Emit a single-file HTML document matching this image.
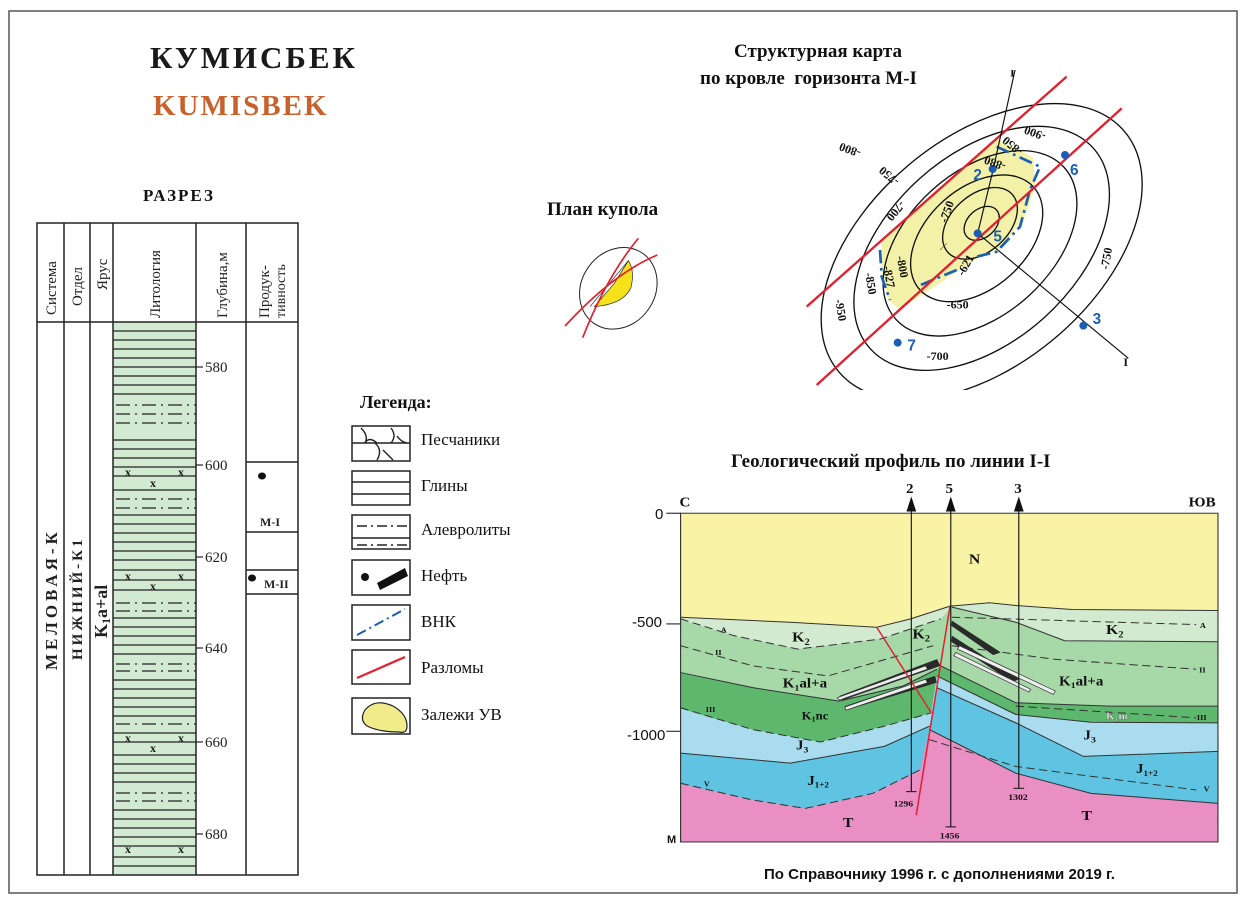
<!DOCTYPE html>
<html><head><meta charset="utf-8"><style>
body{margin:0;width:1247px;height:901px;background:#fff;position:relative;overflow:hidden;font-family:"Liberation Serif",serif;}
.t{position:absolute;white-space:nowrap;}
svg{position:absolute;}
</style></head><body>
<svg width="1247" height="901" style="left:0;top:0">
<rect x="9" y="11" width="1228" height="882" fill="none" stroke="#555" stroke-width="1.5"/>
</svg>

<div class="t" style="left:150px;top:40px;font-size:31px;font-weight:bold;letter-spacing:3px;color:#1a1a1a">КУМИСБЕК</div>
<div class="t" style="left:153px;top:90px;font-size:29px;font-weight:bold;letter-spacing:2px;color:#c8612c">KUMISBEK</div>
<div class="t" style="left:143px;top:186px;font-size:17px;font-weight:bold;letter-spacing:2px;color:#111">РАЗРЕЗ</div>

<!-- Column -->
<svg width="320" height="901" style="left:0;top:0" font-family="Liberation Serif, serif">
<rect x="113" y="322" width="83" height="553" fill="#d3ead2"/>
<g stroke="#222" stroke-width="1.2">
<line x1="113" y1="331" x2="196" y2="331"/><line x1="113" y1="340" x2="196" y2="340"/><line x1="113" y1="349" x2="196" y2="349"/><line x1="113" y1="358" x2="196" y2="358"/><line x1="113" y1="367" x2="196" y2="367"/><line x1="113" y1="376" x2="196" y2="376"/><line x1="113" y1="385" x2="196" y2="385"/><line x1="113" y1="394" x2="196" y2="394"/>
<line x1="113" y1="440" x2="196" y2="440"/><line x1="113" y1="449" x2="196" y2="449"/><line x1="113" y1="458" x2="196" y2="458"/><line x1="113" y1="467" x2="196" y2="467"/><line x1="113" y1="476" x2="196" y2="476"/><line x1="113" y1="490" x2="196" y2="490"/>
<line x1="113" y1="515" x2="196" y2="515"/><line x1="113" y1="524" x2="196" y2="524"/><line x1="113" y1="533" x2="196" y2="533"/><line x1="113" y1="542" x2="196" y2="542"/><line x1="113" y1="551" x2="196" y2="551"/><line x1="113" y1="560" x2="196" y2="560"/><line x1="113" y1="570" x2="196" y2="570"/><line x1="113" y1="580" x2="196" y2="580"/><line x1="113" y1="590" x2="196" y2="590"/>
<line x1="113" y1="618" x2="196" y2="618"/><line x1="113" y1="627" x2="196" y2="627"/><line x1="113" y1="636" x2="196" y2="636"/><line x1="113" y1="645" x2="196" y2="645"/><line x1="113" y1="654" x2="196" y2="654"/>
<line x1="113" y1="680" x2="196" y2="680"/><line x1="113" y1="689" x2="196" y2="689"/><line x1="113" y1="698" x2="196" y2="698"/><line x1="113" y1="707" x2="196" y2="707"/><line x1="113" y1="716" x2="196" y2="716"/>
<line x1="113" y1="733" x2="196" y2="733"/><line x1="113" y1="742" x2="196" y2="742"/><line x1="113" y1="755" x2="196" y2="755"/><line x1="113" y1="764" x2="196" y2="764"/><line x1="113" y1="773" x2="196" y2="773"/><line x1="113" y1="782" x2="196" y2="782"/>
<line x1="113" y1="810" x2="196" y2="810"/><line x1="113" y1="819" x2="196" y2="819"/><line x1="113" y1="828" x2="196" y2="828"/><line x1="113" y1="837" x2="196" y2="837"/><line x1="113" y1="846" x2="196" y2="846"/><line x1="113" y1="857" x2="196" y2="857"/><line x1="113" y1="866" x2="196" y2="866"/>
</g>
<g stroke="#222" stroke-width="1.2" stroke-dasharray="14,5,2,5">
<line x1="116" y1="405" x2="196" y2="405"/><line x1="116" y1="414" x2="196" y2="414"/><line x1="116" y1="423" x2="196" y2="423"/>
<line x1="116" y1="499" x2="196" y2="499"/><line x1="116" y1="508" x2="196" y2="508"/>
<line x1="116" y1="603" x2="196" y2="603"/><line x1="116" y1="611" x2="196" y2="611"/>
<line x1="116" y1="664" x2="196" y2="664"/><line x1="116" y1="671" x2="196" y2="671"/>
<line x1="116" y1="724" x2="196" y2="724"/>
<line x1="116" y1="793" x2="196" y2="793"/><line x1="116" y1="801" x2="196" y2="801"/>
</g>
<g font-size="12" font-weight="bold" fill="#222">
<text x="125" y="476">x</text><text x="150" y="487">x</text><text x="178" y="476">x</text>
<text x="125" y="580">x</text><text x="150" y="590">x</text><text x="178" y="580">x</text>
<text x="125" y="742">x</text><text x="150" y="752">x</text><text x="178" y="742">x</text>
<text x="125" y="853">x</text><text x="178" y="853">x</text>
</g>
<g stroke="#222" stroke-width="1.5" fill="none">
<rect x="37" y="223" width="261" height="652"/>
<line x1="37" y1="322" x2="298" y2="322"/>
<line x1="64" y1="223" x2="64" y2="875"/><line x1="90" y1="223" x2="90" y2="875"/><line x1="113" y1="223" x2="113" y2="875"/><line x1="196" y1="223" x2="196" y2="875"/><line x1="246" y1="223" x2="246" y2="875"/>
<line x1="246" y1="462" x2="298" y2="462"/><line x1="246" y1="532" x2="298" y2="532"/><line x1="246" y1="570" x2="298" y2="570"/><line x1="246" y1="594" x2="298" y2="594"/>
</g>
<g stroke="#222" stroke-width="1.2">
<line x1="196" y1="367" x2="203" y2="367"/><line x1="196" y1="465" x2="203" y2="465"/><line x1="196" y1="557" x2="203" y2="557"/><line x1="196" y1="648" x2="203" y2="648"/><line x1="196" y1="742" x2="203" y2="742"/><line x1="196" y1="834" x2="203" y2="834"/>
</g>
<g font-size="15" fill="#222">
<text x="205" y="372">580</text><text x="205" y="470">600</text><text x="205" y="562">620</text><text x="205" y="653">640</text><text x="205" y="747">660</text><text x="205" y="839">680</text>
</g>
<g font-size="15" fill="#222">
<text transform="translate(56,315) rotate(-90)">Система</text>
<text transform="translate(82,306) rotate(-90)">Отдел</text>
<text transform="translate(107,290) rotate(-90)">Ярус</text>
<text transform="translate(160,318) rotate(-90)">Литология</text>
<text transform="translate(227,318) rotate(-90)">Глубина,м</text>
<text transform="translate(269,318) rotate(-90)">Продук-</text>
<text transform="translate(285,318) rotate(-90)" font-size="14">тивность</text>
</g>
<g font-weight="bold" fill="#222">
<text transform="translate(57,670) rotate(-90)" font-size="17" letter-spacing="4">МЕЛОВАЯ-К</text>
<text transform="translate(82,660) rotate(-90)" font-size="15" letter-spacing="3">НИЖНИЙ-К1</text>
<text transform="translate(107,638) rotate(-90)" font-size="18">K<tspan font-size="12" dy="3">1</tspan><tspan dy="-3">a+al</tspan></text>
<text x="260" y="526" font-size="12">М-I</text>
<text x="264" y="588" font-size="12">М-II</text>
</g>
<ellipse cx="262" cy="476" rx="4" ry="3.5" fill="#111"/>
<ellipse cx="252" cy="578" rx="4" ry="3.5" fill="#111"/>
</svg>

<!-- Legend -->
<div class="t" style="left:360px;top:392px;font-size:18px;font-weight:bold;color:#111">Легенда:</div>
<svg width="130" height="360" style="left:345px;top:400px">
<g stroke="#222" stroke-width="1.5" fill="#fff">
<rect x="7" y="26" width="58" height="35"/><rect x="7" y="71" width="58" height="34"/><rect x="7" y="115" width="58" height="34"/><rect x="7" y="160" width="58" height="35"/><rect x="7" y="205" width="58" height="35"/><rect x="7" y="250" width="58" height="34"/><rect x="7" y="298" width="58" height="36"/>
</g>
<g stroke="#222" stroke-width="1.4" fill="none">
<line x1="7" y1="43" x2="65" y2="43"/>
<path d="M16 28 Q24 36 20 43 Q24 36 32 43 M46 28 Q52 36 46 43 M52 36 Q56 42 62 43 M30 43 Q38 50 32 60 M38 50 Q44 56 48 60"/>
<line x1="7" y1="82" x2="65" y2="82"/><line x1="7" y1="94" x2="65" y2="94"/>
<line x1="7" y1="138" x2="65" y2="138"/>
<line x1="12" y1="126" x2="65" y2="126" stroke-dasharray="10,4,2,4"/><line x1="12" y1="145" x2="65" y2="145" stroke-dasharray="10,4,2,4"/>
</g>
<circle cx="20" cy="177" r="4" fill="#111"/>
<polygon points="32,183 60,168 63,176 35,190" fill="#111"/>
<line x1="12" y1="235" x2="60" y2="209" stroke="#1a5fb4" stroke-width="2" stroke-dasharray="10,4,2,4"/>
<line x1="12" y1="278" x2="60" y2="257" stroke="#e02030" stroke-width="2.2"/>
<path d="M20 310 q10 -12 28 -4 q14 8 14 20 q0 8 -8 6 q-20 0 -32 -6 q-8 -6 -2 -16z" fill="#f0ec8a" stroke="#222" stroke-width="1.2"/>
</svg>
<div class="t" style="left:421px;top:430px;font-size:17px;color:#111">Песчаники</div>
<div class="t" style="left:421px;top:476px;font-size:17px;color:#111">Глины</div>
<div class="t" style="left:421px;top:520px;font-size:17px;color:#111">Алевролиты</div>
<div class="t" style="left:421px;top:566px;font-size:17px;color:#111">Нефть</div>
<div class="t" style="left:421px;top:612px;font-size:17px;color:#111">ВНК</div>
<div class="t" style="left:421px;top:658px;font-size:17px;color:#111">Разломы</div>
<div class="t" style="left:421px;top:705px;font-size:17px;color:#111">Залежи УВ</div>

<!-- Plan kupola -->
<div class="t" style="left:547px;top:199px;font-size:19px;font-weight:bold;color:#111">План купола</div>
<svg width="160" height="130" style="left:540px;top:220px" viewBox="0 90 480 390">
<ellipse cx="235" cy="295" rx="110" ry="128" transform="rotate(35 235 295)" fill="none" stroke="#222" stroke-width="3"/>
<path d="M265 212 q20 30 8 80 q-20 50 -110 58 l60 -70z" fill="#f5e21a" stroke="#222" stroke-width="2"/>
<line x1="150" y1="350" x2="265" y2="212" stroke="#222" stroke-width="2"/>
<path d="M128 443 Q200 260 295 145" stroke="#e02030" stroke-width="5" fill="none"/>
<path d="M75 408 Q220 250 352 195" stroke="#e02030" stroke-width="5" fill="none"/>
</svg>

<!-- Map title -->
<div class="t" style="left:734px;top:41px;font-size:19px;font-weight:bold;color:#111">Структурная карта</div>
<div class="t" style="left:700px;top:68px;font-size:19px;font-weight:bold;color:#111">по кровле&nbsp; горизонта М-I</div>

<svg width="360" height="320" style="left:800px;top:70px" viewBox="0 0 1080 960" font-family="Liberation Serif, serif">
<path d="M245 511 L590 206 L700 262 L705 350 L675 440 L600 535 L540 560 L300 718 L265 690 L245 600Z" fill="#f3f1a8"/>
<g fill="none" stroke="#111" stroke-width="4">
<ellipse cx="545" cy="545" rx="560" ry="340" transform="rotate(-40 545 545)"/>
<ellipse cx="545" cy="535" rx="450" ry="280" transform="rotate(-42 545 535)"/>
<ellipse cx="540" cy="520" rx="340" ry="215" transform="rotate(-42 540 520)"/>
<ellipse cx="530" cy="505" rx="230" ry="150" transform="rotate(-42 530 505)"/>
<ellipse cx="540" cy="460" rx="130" ry="85" transform="rotate(-42 540 460)"/>
<ellipse cx="545" cy="460" rx="60" ry="42" transform="rotate(-42 545 460)"/>
</g>
<path d="M590 230 L720 290 L690 360 L660 470 L590 545 L530 560 M470 600 L350 650 M240 540 L245 620 L270 690" fill="none" stroke="#1a5fb4" stroke-width="8" stroke-dasharray="40,14,8,14"/>
<line x1="20" y1="710" x2="800" y2="20" stroke="#e02030" stroke-width="7"/>
<line x1="50" y1="945" x2="965" y2="115" stroke="#e02030" stroke-width="7"/>
<polyline points="645,0 580,297 533,490 985,865" fill="none" stroke="#111" stroke-width="3.5"/>
<g fill="#1a5fb4">
<circle cx="578" cy="297" r="12"/><circle cx="533" cy="490" r="12"/><circle cx="795" cy="255" r="12"/><circle cx="850" cy="767" r="12"/><circle cx="293" cy="818" r="12"/>
</g>
<g fill="#1a5fb4" font-family="Liberation Sans, sans-serif" font-weight="bold" font-size="46">
<text x="520" y="330">2</text><text x="580" y="515">5</text><text x="810" y="315">6</text><text x="878" y="762">3</text><text x="322" y="842">7</text>
</g>
<g font-size="36" font-weight="bold" fill="#111">
<text x="630" y="20">I</text><text x="970" y="888">I</text>
<text transform="translate(185,240) rotate(200)">-800</text>
<text transform="translate(300,330) rotate(220)">-750</text>
<text transform="translate(300,390) rotate(130)">-700</text>
<text transform="translate(740,190) rotate(200)">-900</text>
<text transform="translate(670,240) rotate(220)">-850</text>
<text transform="translate(620,280) rotate(200)">-880</text>
<text transform="translate(440,460) rotate(-70)">-750</text>
<text transform="translate(290,560) rotate(80)">-800</text>
<text transform="translate(250,590) rotate(80)">-827</text>
<text transform="translate(195,610) rotate(80)">-850</text>
<text transform="translate(105,690) rotate(80)">-950</text>
<text transform="translate(490,620) rotate(-60)">-621</text>
<text x="440" y="715">-650</text>
<text x="380" y="870">-700</text>
<text transform="translate(925,600) rotate(-80)">-750</text>
</g>
<path d="M420 540 L440 520" stroke="#e02030" stroke-width="2"/>
</svg>

<!-- Profile -->
<div class="t" style="left:731px;top:451px;font-size:19px;font-weight:bold;color:#111">Геологический профиль по линии I-I</div>
<svg width="590" height="369" style="left:640px;top:478px" viewBox="0 0 1570 1100" preserveAspectRatio="none" font-family="Liberation Serif, serif">
<defs><clipPath id="bx"><rect x="108" y="105" width="1430" height="980"/></clipPath></defs>
<g clip-path="url(#bx)" stroke="none">
<rect x="108" y="105" width="1430" height="980" fill="#e98fc3"/>
<path d="M100 100 L100 910 L300 960 L440 985 L620 940 L745 870 L770 750 L1000 880 L1200 940 L1540 970 L1540 100Z" fill="#5ec4e2"/>
<path d="M100 100 L100 820 L400 850 L650 800 L770 740 L790 625 L1000 730 L1180 830 L1540 815 L1540 100Z" fill="#a9dcef"/>
<path d="M100 100 L100 685 L300 750 L480 787 L650 740 L775 700 L790 590 L1000 705 L1200 728 L1540 730 L1540 100Z" fill="#5db86e"/>
<path d="M100 100 L100 580 L300 625 L530 665 L700 620 L790 570 L800 560 L1000 670 L1250 680 L1540 680 L1540 100Z" fill="#a7d8a8"/>
<path d="M100 100 L100 420 L250 470 L420 510 L640 480 L800 420 L830 385 L1000 430 L1130 485 L1540 488 L1540 100Z" fill="#d2ebd0"/>
<path d="M100 100 L100 415 L400 430 L630 445 L720 420 L825 382 L870 378 L930 372 L1000 380 L1150 392 L1540 395 L1540 100Z" fill="#f8f3a5"/>
</g>
<g clip-path="url(#bx)" fill="none" stroke="#333" stroke-width="3">
<path d="M108 415 L400 430 L630 445 L720 420 L825 382 L870 378 L930 372 L1000 380 L1150 392 L1538 395"/>
<path d="M830 385 L1000 430 L1130 485 L1538 488"/>
<path d="M108 580 L300 625 L530 665 L700 620 L790 570"/>
<path d="M800 560 L1000 670 L1250 680 L1538 680"/>
<path d="M790 590 L1000 705 L1200 728 L1538 730"/>
<path d="M108 820 L400 850 L650 800 L770 740"/>
<path d="M790 625 L1000 730 L1180 830 L1538 815"/>
<path d="M770 750 L1000 880 L1200 940 L1538 970"/>
<g stroke-dasharray="22,12">
<path d="M108 420 L250 470 L420 510 L640 480 L800 420"/>
<path d="M830 415 L1480 437"/>
<path d="M108 500 L300 560 L500 590 L780 500"/>
<path d="M830 500 L1100 540 L1480 570"/>
<path d="M108 685 L300 750 L480 787 L650 740 L775 700"/>
<path d="M1000 680 L1480 715"/>
<path d="M108 910 L300 960 L440 985 L620 940 L745 870"/>
<path d="M770 780 L1000 860 L1480 930"/>
</g>
</g>
<g fill="#2a2a2a">
<polygon points="530,650 790,540 800,560 540,662"/>
<polygon points="545,680 785,590 790,610 550,692"/>
<polygon points="830,425 960,520 940,528 828,440"/>
<polygon points="830,470 1010,600 990,608 828,488"/>
</g>
<g fill="#eee" stroke="#333" stroke-width="2">
<path d="M525 655 L760 560 L765 570 L530 662Z"/>
<path d="M545 683 L760 600 L765 610 L548 692Z"/>
<path d="M850 500 L1105 635 L1100 645 L845 510Z"/>
<path d="M840 520 L1040 630 L1035 638 L835 530Z"/>
</g>
<g stroke="#e02030" stroke-width="4" fill="none">
<path d="M630 445 L775 700"/>
<path d="M825 382 L735 1005"/>
</g>
<rect x="108" y="105" width="1430" height="980" fill="none" stroke="#333" stroke-width="3"/>
<g stroke="#111" stroke-width="3">
<line x1="722" y1="90" x2="722" y2="935"/><line x1="708" y1="935" x2="736" y2="935"/>
<line x1="827" y1="90" x2="827" y2="1040"/><line x1="813" y1="1040" x2="841" y2="1040"/>
<line x1="1008" y1="90" x2="1008" y2="925"/><line x1="994" y1="925" x2="1022" y2="925"/>
<line x1="70" y1="105" x2="108" y2="105"/><line x1="70" y1="435" x2="108" y2="435"/><line x1="70" y1="755" x2="108" y2="755"/>
</g>
<g fill="#111">
<polygon points="722,55 709,100 735,100"/><polygon points="827,55 814,100 840,100"/><polygon points="1008,55 995,100 1021,100"/>
</g>
<g font-weight="bold" fill="#111">
<text x="708" y="45" font-size="40">2</text><text x="813" y="45" font-size="40">5</text><text x="996" y="45" font-size="40">3</text>
<text x="105" y="85" font-size="40">С</text><text x="1460" y="85" font-size="40">ЮВ</text>
<text x="675" y="980" font-size="26">1296</text><text x="798" y="1075" font-size="26">1456</text><text x="980" y="960" font-size="26">1302</text>
<text x="875" y="255" font-size="42">N</text>
<text x="405" y="488" font-size="42">K<tspan font-size="28" dy="10">2</tspan></text>
<text x="725" y="478" font-size="42">K<tspan font-size="28" dy="10">2</tspan></text>
<text x="1240" y="465" font-size="42">K<tspan font-size="28" dy="10">2</tspan></text>
<text x="380" y="625" font-size="40">K<tspan font-size="26" dy="8">1</tspan><tspan dy="-8">al+a</tspan></text>
<text x="1115" y="618" font-size="40">K<tspan font-size="26" dy="8">1</tspan><tspan dy="-8">al+a</tspan></text>
<text x="430" y="720" font-size="34">K<tspan font-size="22" dy="6">1</tspan><tspan dy="-6">nc</tspan></text>
<text x="1240" y="720" font-size="30" fill="#fff" stroke="#333" stroke-width="0.8">K<tspan font-size="20" dy="6">1</tspan><tspan dy="-6">nc</tspan></text>
<text x="415" y="810" font-size="40">J<tspan font-size="26" dy="8">3</tspan></text>
<text x="1180" y="780" font-size="40">J<tspan font-size="26" dy="8">3</tspan></text>
<text x="445" y="915" font-size="40">J<tspan font-size="24" dy="8">1+2</tspan></text>
<text x="1320" y="880" font-size="40">J<tspan font-size="24" dy="8">1+2</tspan></text>
<text x="540" y="1040" font-size="42">T</text><text x="1175" y="1020" font-size="42">T</text>
<g font-size="22"><text x="215" y="460">A</text><text x="200" y="527">II</text><text x="175" y="697">III</text><text x="170" y="920">V</text>
<text x="1490" y="447">A</text><text x="1488" y="580">II</text><text x="1482" y="722">III</text><text x="1500" y="935">V</text></g>
</g>
</svg>
<div class="t" style="left:655px;top:506px;font-size:15px;font-family:'Liberation Sans',sans-serif;color:#111">0</div>
<div class="t" style="left:632px;top:614px;font-size:15px;font-family:'Liberation Sans',sans-serif;color:#111">-500</div>
<div class="t" style="left:627px;top:727px;font-size:15px;font-family:'Liberation Sans',sans-serif;color:#111">-1000</div>
<div class="t" style="left:667px;top:834px;font-size:11px;font-weight:bold;font-family:'Liberation Sans',sans-serif;color:#111">М</div>

<div class="t" style="left:764px;top:866px;font-size:15px;font-weight:bold;font-family:'Liberation Sans',sans-serif;color:#111">По Справочнику 1996 г. с дополнениями 2019 г.</div>
</body></html>
